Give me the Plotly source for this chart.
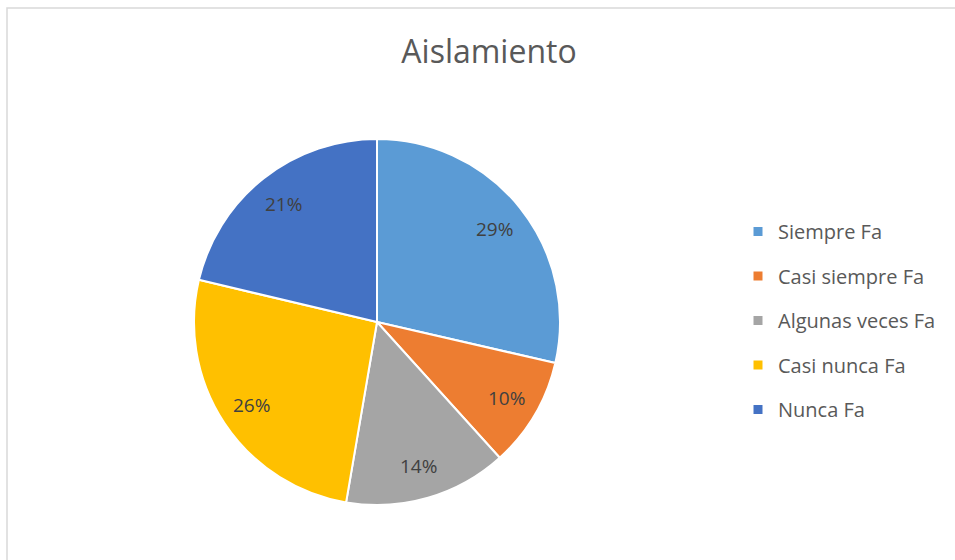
import math
import plotly.graph_objects as go

labels = ['Siempre Fa', 'Casi siempre Fa', 'Algunas veces Fa', 'Casi nunca Fa', 'Nunca Fa']
values = [28.6, 9.7, 14.4, 26.0, 21.3]
colors = ['#5B9BD5', '#ED7D31', '#A5A5A5', '#FFC000', '#4472C4']

W, H = 955, 560
FONT = 'Open Sans'


def main():
    fig = go.Figure()

    dom_x = [194 / W, 560 / W]
    dom_y = [(H - 505) / H, (H - 139) / H]

    fig.add_trace(go.Pie(
        labels=labels,
        values=values,
        sort=False,
        direction='clockwise',
        rotation=0,
        marker=dict(colors=colors, line=dict(color='white', width=2)),
        textinfo='none',
        showlegend=False,
        hoverinfo='label+percent',
        domain=dict(x=dom_x, y=dom_y),
    ))

    # percent labels placed along each slice bisector, like Excel does
    cx = (dom_x[0] + dom_x[1]) / 2
    cy = (dom_y[0] + dom_y[1]) / 2
    r_px = (dom_x[1] - dom_x[0]) * W / 2
    total = sum(values)
    cum = 0
    annotations = []
    for v in values:
        mid = (cum + v / 2) / total * 2 * math.pi
        cum += v
        dx = 0.82 * r_px * math.sin(mid) / W
        dy = 0.82 * r_px * math.cos(mid) / H
        annotations.append(dict(
            x=cx + dx, y=cy + dy, xref='paper', yref='paper', showarrow=False,
            xanchor='center', yanchor='middle',
            text=f'{round(v / total * 100)}%',
            font=dict(family=FONT, size=19, color='#404040'),
        ))

    # legend entries as empty square markers, one group each so the gap can be set
    for lab, col in zip(labels, colors):
        fig.add_trace(go.Scatter(
            x=[None], y=[None], mode='markers', name=lab, legendgroup=lab,
            marker=dict(symbol='square', size=9, color=col),
        ))

    fig.update_layout(
        width=W, height=H,
        margin=dict(l=0, r=0, t=0, b=0),
        paper_bgcolor='white',
        plot_bgcolor='white',
        xaxis=dict(visible=False),
        yaxis=dict(visible=False),
        title=dict(text='Aislamiento', x=489 / W, xanchor='center', y=1 - 52 / H, yanchor='middle',
                   font=dict(family=FONT, size=32, color='#595959')),
        legend=dict(x=738 / W, xanchor='left', y=1 - 212 / H, yanchor='top',
                    font=dict(family=FONT, size=20, color='#595959'),
                    tracegroupgap=15.5, itemwidth=30, bgcolor='rgba(0,0,0,0)'),
        annotations=annotations,
        shapes=[dict(type='rect', xref='paper', yref='paper', x0=7 / W, x1=1.02,
                     y0=-0.02, y1=1 - 8 / H, line=dict(color='#D9D9D9', width=1.5),
                     fillcolor='rgba(0,0,0,0)', layer='below')],
    )

    fig.write_html('out.html', config={'displayModeBar': False},
                   post_script="document.body.style.margin='0';")


if __name__ == '__main__':
    main()
